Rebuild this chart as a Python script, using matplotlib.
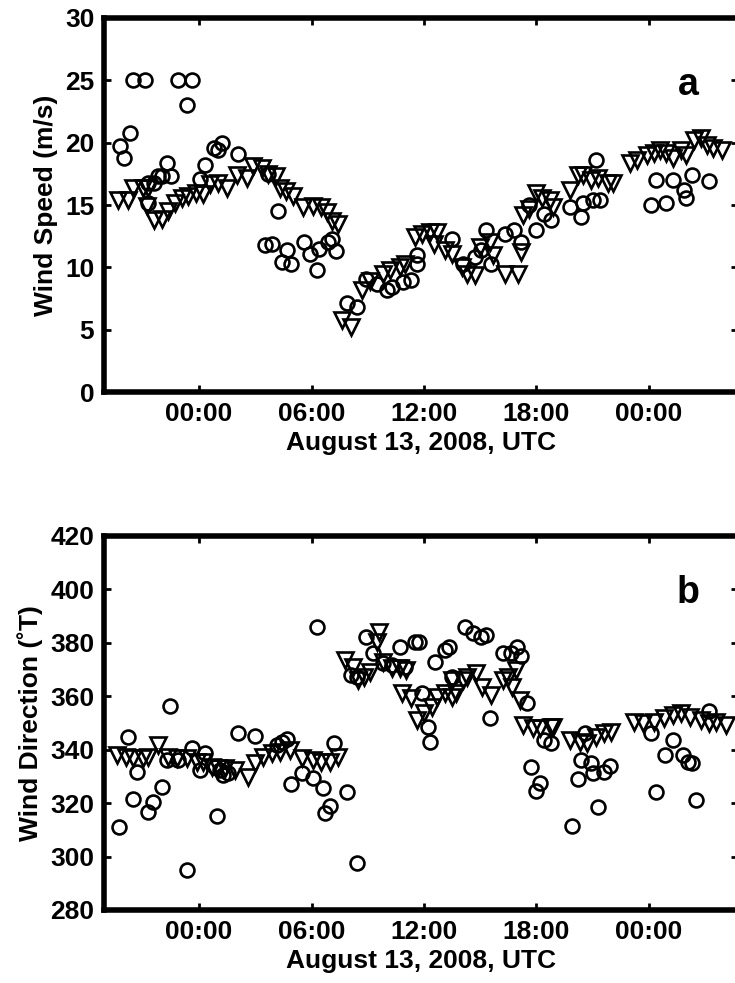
import matplotlib
matplotlib.use("Agg")
import matplotlib.pyplot as plt

plt.rcParams["font.family"] = ["Liberation Sans", "DejaVu Sans"]
plt.rcParams["font.weight"] = "bold"
plt.rcParams["font.size"] = 19

# hours relative to August 13, 2008 00:00 UTC
tick_hours = [0, 6, 12, 18, 24]
tick_labels = ["00:00", "06:00", "12:00", "18:00", "00:00"]

# panel a: wind speed (m/s)
spd_circ_t = [-4.2, -4.0, -3.7, -3.5, -2.9, -2.7, -2.4, -2.2, -2.0, -1.7, -1.5, -2.7, -1.1, -0.4, -0.64,
              0.05, 0.3, 0.8, 1.0, 1.2, 2.1, 3.7, 4.2, 3.5, 3.9, 4.7, 4.4, 4.9, 5.6, 5.9, 6.4, 6.3,
              6.9, 7.1, 7.3, 7.9, 8.4, 8.9, 9.5, 10.0, 10.3, 10.9, 11.3, 11.6, 11.6, 13.5, 14.1, 14.7,
              15.05, 15.6, 15.3, 16.3, 16.8, 17.2, 17.6, 18.0, 18.4, 18.8, 19.8, 20.4, 20.5, 21.0,
              21.4, 21.2, 24.1, 24.9, 24.4, 25.3, 25.85, 26.0, 26.3, 27.2]
spd_circ = [19.7, 18.8, 20.8, 25.0, 25.0, 16.8, 16.8, 17.3, 17.3, 18.4, 17.3, 15.2, 25.0, 25.0, 23.0,
            17.1, 18.2, 19.6, 19.4, 20.0, 19.1, 17.5, 14.5, 11.8, 11.9, 11.4, 10.4, 10.3, 12.0, 11.1,
            11.5, 9.8, 12.0, 12.3, 11.3, 7.1, 6.8, 9.1, 8.7, 8.2, 8.4, 8.8, 9.0, 11.0, 10.3, 12.3,
            10.3, 10.8, 11.4, 10.3, 13.0, 12.7, 13.0, 12.0, 15.0, 13.0, 14.3, 13.8, 14.8, 14.0,
            15.2, 15.4, 15.4, 18.6, 15.0, 15.2, 17.0, 17.0, 16.2, 15.6, 17.4, 16.9]

spd_tri_t = [-4.3, -3.8, -3.5, -3.0, -2.7, -2.8, -2.4, -2.0, -1.65, -1.3, -0.93, -0.6, -0.16, 0.2,
             0.6, 1.0, 1.5, 2.0, 2.55, 2.9, 3.35, 3.7, 4.1, 4.3, 4.65, 5.0, 5.55, 6.1, 6.5, 6.85,
             7.1, 7.4, 7.65, 8.1, 8.7, 9.1, 9.8, 10.2, 10.7, 11.0, 11.5, 11.9, 12.3, 12.7, 12.55,
             13.1, 13.5, 14.0, 14.3, 14.7, 15.0, 15.5, 15.7, 16.3, 17.0, 17.2, 17.3, 17.6, 18.0,
             18.3, 18.7, 18.9, 19.8, 20.2, 20.5, 20.9, 21.3, 21.8, 22.1, 23.0, 23.35, 23.9, 24.25,
             24.6, 24.9, 25.3, 25.7, 26.0, 26.4, 26.75, 27.1, 27.4, 27.9]
spd_tri = [15.4, 15.4, 16.4, 16.4, 16.4, 14.9, 13.8, 13.9, 14.5, 15.2, 15.6, 15.7, 16.0, 15.9,
           16.7, 16.8, 16.4, 17.4, 17.2, 18.1, 18.0, 17.5, 17.3, 16.4, 16.1, 15.7, 14.8, 14.9, 14.8,
           14.4, 13.7, 13.5, 5.8, 5.2, 8.2, 8.9, 9.5, 9.8, 10.0, 10.3, 12.4, 12.7, 12.8, 12.8, 11.9,
           11.4, 11.1, 10.0, 9.5, 9.4, 11.6, 12.0, 11.0, 9.5, 9.5, 11.2, 14.2, 14.7, 16.0,
           15.6, 15.4, 14.8, 16.2, 17.4, 17.4, 17.0, 17.2, 16.8, 16.8, 18.4, 18.6, 19.0, 19.2,
           19.4, 19.2, 18.8, 19.4, 19.0, 20.2, 20.4, 19.8, 19.6, 19.4]

# panel b: wind direction (deg T)
dir_circ_t = [-4.25, -3.8, -3.5, -3.3, -2.7, -2.45, -2.0, -1.55, -1.7, -1.1, -0.65, -0.4, 0.3, 0.05,
              0.95, 0.85, 1.1, 1.3, 1.55, 2.1, 3.0, 4.15, 4.4, 4.7, 4.9, 5.5, 6.1, 6.6, 6.7, 7.0,
              7.2, 7.9, 8.4, 6.3, 8.9, 9.3, 8.1, 8.4, 10.7, 11.5, 9.8, 10.3, 11.0, 11.75, 11.9,
              12.2, 12.3, 12.6, 13.1, 13.35, 13.5, 14.2, 14.6, 15.05, 15.3, 15.5, 16.2, 16.65,
              16.95, 17.2, 17.5, 17.7, 18.0, 18.2, 18.4, 18.8, 19.9, 20.2, 20.4, 20.9, 20.6, 21.0,
              21.6, 21.9, 21.3, 24.1, 24.4, 24.85, 25.3, 25.8, 26.1, 26.3, 26.5, 27.2]
dir_circ = [311.0, 344.8, 321.6, 331.7, 316.7, 320.4, 326.1, 356.4, 336.2, 336.2, 295.0, 340.6,
            338.8, 332.4, 315.2, 333.5, 332.4, 330.5, 331.3, 346.3, 345.1, 341.8, 342.9, 344.0,
            327.2, 331.3, 329.4, 325.7, 316.3, 318.9, 342.5, 324.2, 297.6, 386.0, 382.2, 376.2,
            368.0, 367.2, 378.5, 380.3, 372.5, 371.7, 371.0, 380.3, 361.2, 348.5, 342.9, 372.8,
            377.3, 378.4, 367.2, 386.0, 383.7, 382.2, 383.0, 351.9, 376.2, 376.2, 378.4, 375.1,
            357.5, 333.5, 324.6, 327.6, 343.6, 342.5, 311.4, 329.0, 336.2, 335.0, 346.3, 331.3,
            331.7, 333.9, 318.6, 346.3, 324.2, 338.0, 343.6, 338.0, 335.4, 335.0, 321.2, 354.5]

dir_tri_t = [-4.4, -3.9, -3.5, -3.0, -2.7, -2.2, -1.65, -1.2, -0.65, -0.1, 0.2, 0.7, 1.0, 1.4, 1.9,
             2.6, 3.0, 3.4, 3.9, 4.3, 4.85, 5.5, 6.1, 6.5, 7.0, 7.4, 7.8, 8.2, 8.5, 8.8, 9.1, 9.6,
             9.5, 9.8, 10.3, 10.7, 11.05, 10.85, 11.3, 11.6, 12.0, 12.4, 12.7, 13.1, 13.5, 13.7,
             13.5, 14.1, 14.3, 14.8, 15.1, 15.6, 16.2, 16.5, 16.9, 16.7, 17.1, 17.3, 17.8, 18.2,
             18.8, 18.9, 19.8, 20.3, 20.7, 21.2, 21.6, 22.0, 23.2, 23.7, 24.25, 24.8, 25.3, 25.7,
             26.2, 26.75, 27.2, 27.6, 28.1]
dir_tri = [338.0, 337.3, 337.0, 337.0, 337.3, 341.8, 337.3, 336.9, 336.9, 335.4, 335.4, 333.5,
           333.1, 333.1, 332.4, 329.8, 335.0, 337.3, 338.8, 339.2, 339.9, 337.0, 336.2, 335.4,
           335.4, 337.3, 373.6, 371.0, 366.1, 367.2, 369.1, 384.1, 380.3, 372.8, 370.6, 370.6,
           369.9, 361.2, 359.4, 351.1, 353.8, 356.0, 359.7, 361.2, 359.7, 361.2, 366.1, 366.1,
           367.2, 368.7, 363.5, 360.5, 366.1, 367.2, 369.9, 363.5, 358.6, 349.3, 348.2, 348.2,
           348.5, 348.5, 343.6, 342.9, 342.5, 344.8, 346.3, 346.6, 350.4, 350.0, 350.4, 351.9,
           353.0, 353.8, 352.3, 351.1, 350.0, 350.4, 349.3]

fig = plt.figure(figsize=(7.35, 9.83), dpi=100)
ax1 = fig.add_axes([0.1415, 0.6012, 0.8626, 0.3805])
ax2 = fig.add_axes([0.1415, 0.0743, 0.8626, 0.3805])


def style(ax):
    for sp in ax.spines.values():
        sp.set_linewidth(4)
    ax.tick_params(direction="in", length=5, width=2, top=True, right=True, pad=7)
    ax.set_xticks(tick_hours)
    ax.set_xticklabels(tick_labels)
    ax.set_xlim(-5.07, 28.75)
    ax.set_xlabel("August 13, 2008, UTC", fontweight="bold", labelpad=4)


circ_kw = dict(ms=10, mfc="none", mec="black", mew=1.9, ls="none")
tri_kw = dict(ms=12, mfc="none", mec="black", mew=1.9, ls="none")

ax1.plot(spd_circ_t, spd_circ, "o", **circ_kw)
ax1.plot(spd_tri_t, spd_tri, "v", **tri_kw)
style(ax1)
ax1.set_ylim(0, 30)
ax1.set_yticks([0, 5, 10, 15, 20, 25, 30])
ax1.set_ylabel("Wind Speed (m/s)", fontweight="bold", labelpad=5)
ax1.text(26.1, 23.8, "a", fontsize=27, fontweight="bold", ha="center", va="baseline")

ax2.plot(dir_circ_t, dir_circ, "o", **circ_kw)
ax2.plot(dir_tri_t, dir_tri, "v", **tri_kw)
style(ax2)
ax2.set_ylim(280, 420)
ax2.set_yticks([280, 300, 320, 340, 360, 380, 400, 420])
ax2.set_ylabel("Wind Direction (\u02daT)", fontweight="bold", labelpad=5)
ax2.text(26.1, 395, "b", fontsize=27, fontweight="bold", ha="center", va="baseline")

fig.savefig("out.png", dpi=100)
